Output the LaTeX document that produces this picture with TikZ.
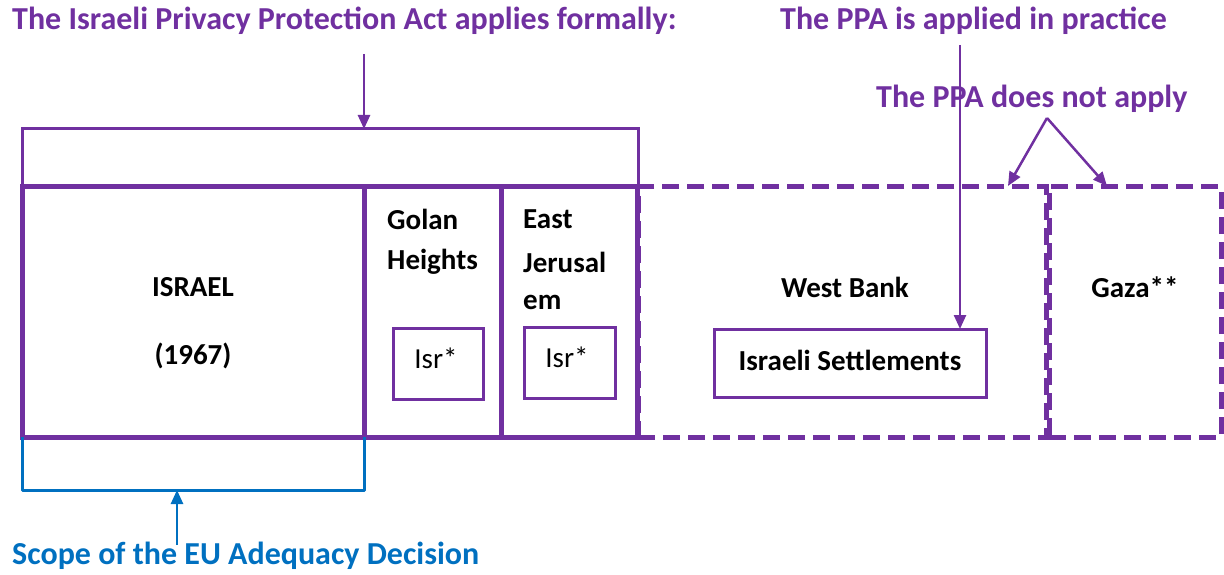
\documentclass[tikz,border=0pt]{standalone}
\usepackage{fontspec}
\setmainfont{Carlito}
\usetikzlibrary{arrows.meta}
\definecolor{ppurple}{HTML}{7030A0}
\definecolor{pblue}{HTML}{0070C0}
\tikzset{
  solidbox/.style={draw=ppurple, line width=5pt, inner sep=0pt, outer sep=0pt},
  dashbox/.style={draw=ppurple, line width=5pt, dash pattern=on 17pt off 8pt, inner sep=0pt, outer sep=0pt},
  thinbox/.style={draw=ppurple, line width=3pt, inner sep=0pt, outer sep=0pt},
  lbl/.style={font=\fontsize{29}{34}\selectfont\bfseries, text=black, inner sep=0pt},
  plainlbl/.style={font=\fontsize{29}{34}\selectfont, text=black, inner sep=0pt},
  title/.style={font=\fontsize{32}{38}\selectfont\bfseries, text=ppurple, inner sep=0pt},
  arr/.style={draw=ppurple, line width=2.5pt, -{Triangle[length=14pt,width=12pt]}},
  barr/.style={draw=pblue, line width=2.5pt, -{Triangle[length=14pt,width=12pt]}},
}
\begin{document}
\begin{tikzpicture}[x=1pt,y=-1pt]
\useasboundingbox (0,0) rectangle (1224,575);
% top formal bracket
\node[thinbox, minimum width=616pt, minimum height=58pt] (formal) at (330,158) {};
% main boxes
\node[solidbox, minimum width=342pt, minimum height=250pt] (israel) at (193,312) {};
\node[solidbox, minimum width=137pt, minimum height=250pt] (golan) at (432.5,312) {};
\node[solidbox, minimum width=136pt, minimum height=250pt] (ej) at (569,312) {};
\node[dashbox, minimum width=408pt, minimum height=250pt] (wb) at (842,312) {};
\node[dashbox, minimum width=172pt, minimum height=250pt] (gaza) at (1135,312) {};
% inner boxes
\node[thinbox, minimum width=90pt, minimum height=71pt] (isr1) at (438,363.5) {};
\node[thinbox, minimum width=91pt, minimum height=71pt] (isr2) at (569.5,362.5) {};
\node[thinbox, minimum width=272pt, minimum height=68pt] (sett) at (850,363) {};
\node[plainlbl] (isr1t) at (436,358) {Isr*};
\node[plainlbl] (isr2t) at (567,357) {Isr*};
\node[lbl] (settt) at (850,360) {Israeli Settlements};
% labels
\node[lbl] (il) at (193,287) {ISRAEL};
\node[lbl] (il67) at (193,356) {(1967)};
\node[lbl, anchor=west] (g1) at (387,219) {Golan};
\node[lbl, anchor=west] (g2) at (387,262) {Heights};
\node[lbl, anchor=west] (e1) at (523,219) {East};
\node[lbl, anchor=west] (e2) at (523,262) {Jerusal};
\node[lbl, anchor=west] (e3) at (523,302) {em};
\node[lbl] (wbl) at (845,287) {West Bank};
\node[lbl] (gzl) at (1135,287) {Gaza**};
% titles
\node[title, anchor=west] (t1) at (12,21) {The Israeli Privacy Protection Act applies formally:};
\node[title, anchor=west] (t2) at (780,21) {The PPA is applied in practice};
\node[title, anchor=west] (t3) at (876,99) {The PPA does not apply};
\node[title, text=pblue, anchor=west] (t4) at (12,556) {Scope of the EU Adequacy Decision};
% connectors
\coordinate (a1) at (364,54);
\draw[arr] (a1) -- (a1 |- formal.north);
\coordinate (a2) at (960,45);
\draw[arr] (a2) -- (a2 |- sett.north);
\coordinate (a3) at (1047,118);
\draw[arr] (a3) -- (1008,186);
\draw[arr] (a3) -- (1107,186);
% blue bracket
\draw[pblue, line width=3pt, line join=round] (israel.south west) -- ++(0,53) coordinate (bl) -| (israel.south east);
\coordinate (a4) at (177,545);
\draw[barr] (a4) -- (a4 |- bl);
\end{tikzpicture}
\end{document}
